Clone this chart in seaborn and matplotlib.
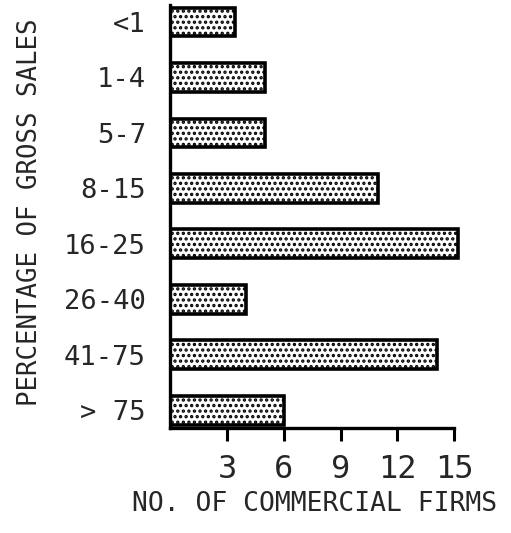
import numpy as np
import pandas as pd
import matplotlib
matplotlib.use("Agg")
import matplotlib.pyplot as plt
import seaborn as sns

# data
categories = ["<1", "1-4", "5-7", "8-15", "16-25", "26-40", "41-75", "> 75"]
firms = [3.4, 5.0, 5.0, 11.0, 15.2, 4.0, 14.1, 6.0]
xticks = [3, 6, 9, 12, 15]

df = pd.DataFrame({"pct": categories, "firms": firms})

sns.set_style("white")
plt.rcParams["font.family"] = ["DejaVu Sans Mono", "DejaVu Sans"]
plt.rcParams["hatch.linewidth"] = 1.6
plt.rcParams["hatch.color"] = "black"

fig = plt.figure(figsize=(5.11, 5.33), dpi=100)
ax = fig.add_axes([0.333, 0.197, 0.567, 0.794])

sns.barplot(data=df, y="pct", x="firms", order=categories, orient="h",
            color="white", edgecolor="black", linewidth=2.6, width=0.52,
            hatch="...", ax=ax)

ax.set_xlim(0, 15.3)
ax.set_ylim(7.32, -0.31)
ax.set_xticks(xticks)
ax.set_xticklabels([str(t) for t in xticks], fontsize=23)
ax.tick_params(axis="x", direction="out", length=9, width=2.2, pad=10,
               bottom=True, color="black")
ax.tick_params(axis="y", left=False, pad=14, labelsize=19.5)

for s in ["top", "right"]:
    ax.spines[s].set_visible(False)
for s in ["left", "bottom"]:
    ax.spines[s].set_linewidth(2.4)
    ax.spines[s].set_color("black")
ax.spines["bottom"].set_bounds(0, 15)

ax.set_xlabel("NO. OF COMMERCIAL FIRMS", fontsize=19, labelpad=4)
ax.set_ylabel("PERCENTAGE OF GROSS SALES", fontsize=18.5)
ax.yaxis.set_label_coords(-0.44, 0.51)

fig.savefig("out.png", dpi=100)
